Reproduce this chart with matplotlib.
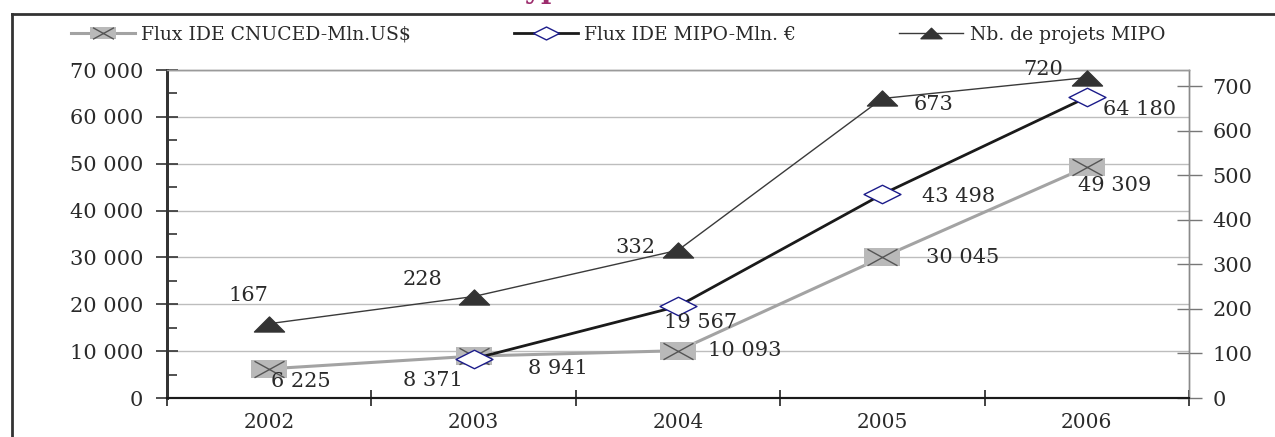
import numpy as np
import matplotlib
matplotlib.use("Agg")
import matplotlib.pyplot as plt
from matplotlib.path import Path
from matplotlib.lines import Line2D
from matplotlib.ticker import FixedLocator, FuncFormatter, MultipleLocator

years = ["2002", "2003", "2004", "2005", "2006"]
flux_cnuced = [6225, 8941, 10093, 30045, 49309]
flux_mipo = [np.nan, 8371, 19567, 43498, 64180]
nb_projets = [167, 228, 332, 673, 720]

label_cnuced = "Flux IDE CNUCED-Mln.US$"
label_mipo = "Flux IDE MIPO-Mln. €"
label_projets = "Nb. de projets MIPO"

# label offsets in pixels (dx, dy downwards) next to each point
off_cnuced = [(32, 13), (84, 12), (67, 0), (80, 0), (28, 19)]
off_mipo = [None, (-41, 22), (23, 16), (76, 2), (53, 12)]
off_projets = [(-21, -28), (-51, -17), (-43, -3), (51, 6), (-44, -8)]

plt.rcParams["font.family"] = ["DejaVu Serif"]
TXT = "#2a2a2a"


def fmt(v):
    return f"{int(v):,}".replace(",", " ")


def polygon(pts):
    return Path(pts + [pts[0]], closed=True)


# wide flat markers
box = polygon([(-1, -0.5), (1, -0.5), (1, 0.5), (-1, 0.5)])
cross = Path([(-1, -0.55), (1, 0.55), (-1, 0.55), (1, -0.55)],
             [Path.MOVETO, Path.LINETO, Path.MOVETO, Path.LINETO])
diamond = polygon([(-1, 0), (0, -0.5), (1, 0), (0, 0.5)])
triangle = polygon([(-1, -0.5), (1, -0.5), (0, 0.5)])

fig = plt.figure(figsize=(12.75, 4.37), dpi=100)
ax = fig.add_axes([167 / 1275, 39 / 437, 1022 / 1275, 328 / 437])
ax2 = ax.twinx()

x = np.arange(len(years))

l1, = ax.plot(x, flux_cnuced, color="#a3a3a3", lw=2.2, marker=box,
              markersize=26.6, markerfacecolor="#b9b9b9", markeredgecolor="#b9b9b9",
              markeredgewidth=0, zorder=3, label=label_cnuced)
lx, = ax.plot(x, flux_cnuced, ls="none", marker=cross, markersize=21.6,
              markerfacecolor="none", markeredgecolor="#555555", markeredgewidth=1.0,
              zorder=4)
l2, = ax.plot(x, flux_mipo, color="#1a1a1a", lw=2.0, marker=diamond,
              markersize=26.6, markerfacecolor="white", markeredgecolor="#1c1c8a",
              markeredgewidth=1.0, zorder=5, label=label_mipo)
l3, = ax2.plot(x, nb_projets, color="#3a3a3a", lw=1.0, marker=triangle,
               markersize=21.6, markerfacecolor="#333333", markeredgecolor="#333333",
               zorder=5, label=label_projets)

for xi, v, o in zip(x, flux_cnuced, off_cnuced):
    ax.annotate(fmt(v), (xi, v), xytext=(o[0], -o[1]), textcoords="offset pixels",
                ha="center", va="center", fontsize=15, color=TXT, zorder=6)
for xi, v, o in zip(x, flux_mipo, off_mipo):
    if o is None or np.isnan(v):
        continue
    ax.annotate(fmt(v), (xi, v), xytext=(o[0], -o[1]), textcoords="offset pixels",
                ha="center", va="center", fontsize=15, color=TXT, zorder=6)
for xi, v, o in zip(x, nb_projets, off_projets):
    ax2.annotate(fmt(v), (xi, v), xytext=(o[0], -o[1]), textcoords="offset pixels",
                 ha="center", va="center", fontsize=15, color=TXT, zorder=6)

# left axis
ax.set_xlim(-0.5, len(years) - 0.5)
ax.set_ylim(0, 70000)
ax.yaxis.set_major_locator(MultipleLocator(10000))
ax.yaxis.set_minor_locator(MultipleLocator(5000))
ax.yaxis.set_major_formatter(FuncFormatter(lambda v, p: fmt(v)))
ax.tick_params(axis="y", which="major", direction="inout", length=16, width=1.2,
               color="#333333", labelsize=15, labelcolor=TXT, pad=9)
ax.tick_params(axis="y", which="minor", direction="in", length=7, width=1.2,
               color="#333333")
ax.grid(axis="y", which="major", color="#bdbdbd", lw=1.0)
ax.set_axisbelow(True)

# categories on x, ticks between them
ax.xaxis.set_major_locator(FixedLocator(x))
ax.xaxis.set_minor_locator(FixedLocator(np.arange(len(years) + 1) - 0.5))
ax.set_xticks(x, years)
ax.tick_params(axis="x", which="major", length=0, labelsize=14.5, labelcolor=TXT, pad=11)
ax.tick_params(axis="x", which="minor", direction="inout", length=12, width=1.2,
               color="#222222")

# right axis for the number of projects
ax2.set_ylim(0, 737)
ax2.yaxis.set_major_locator(FixedLocator(np.arange(0, 701, 100)))
ax2.tick_params(axis="y", direction="inout", length=18, width=1.0, color="#777777",
                labelsize=15, labelcolor=TXT, pad=8)

for a in (ax, ax2):
    a.spines["top"].set_color("#9a9a9a")
    a.spines["top"].set_linewidth(1.0)
    a.spines["right"].set_color("#8a8a8a")
    a.spines["right"].set_linewidth(1.0)
    a.spines["left"].set_color("#333333")
    a.spines["left"].set_linewidth(2.0)
    a.spines["bottom"].set_color("#1a1a1a")
    a.spines["bottom"].set_linewidth(1.5)

fig.legend([(l1, lx), l2, l3], [label_cnuced, label_mipo, label_projets],
           loc="center left", bbox_to_anchor=(54 / 1275, 1 - 35 / 437), ncol=3,
           frameon=False, fontsize=13.5, handlelength=3.4, handletextpad=0.35,
           columnspacing=5.5, markerscale=0.7, labelcolor=TXT)

# outer frame and clipped heading above it
fig.add_artist(Line2D([12 / 1275, 1], [1 - 14 / 437, 1 - 14 / 437],
                      transform=fig.transFigure, color="#333333", lw=2))
fig.add_artist(Line2D([12 / 1275, 12 / 1275], [0, 1 - 14 / 437],
                      transform=fig.transFigure, color="#333333", lw=2))
fig.text(512 / 1275, 1 + 2 / 437, "type", fontsize=20, color="#9c2b6c",
         fontweight="bold", va="baseline", ha="left")

fig.savefig("out.png", dpi=100)
